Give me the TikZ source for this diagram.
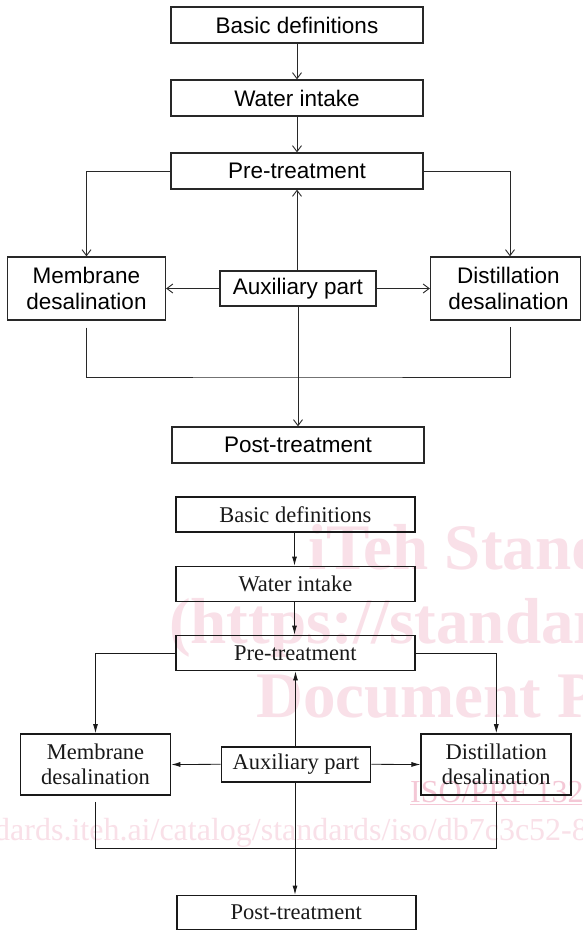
\documentclass[tikz,border=0pt]{standalone}
\usepackage{fontspec}
\setmainfont{Liberation Serif}
\newfontfamily\arialf{Liberation Sans}
\usetikzlibrary{arrows.meta}
\definecolor{wm}{RGB}{249,224,232}
\definecolor{wmiso}{RGB}{244,200,214}
\definecolor{lineA}{RGB}{40,40,40}
\definecolor{lineB}{RGB}{25,25,25}
\tikzset{
  boxA/.style={draw=lineA, line width=1.2pt, rectangle, inner sep=0pt, align=center,
    font=\arialf\fontsize{22.5}{26.5}\selectfont, text=black},
  boxB/.style={draw=lineB, line width=1.8pt, rectangle, inner sep=0pt, align=center,
    font=\fontsize{22.5}{25}\selectfont, text=lineB},
  connA/.style={draw=lineA, line width=0.9pt},
  arrA/.style={connA, -{Straight Barb[length=6pt,width=9pt]}},
  connB/.style={draw=lineB, line width=0.8pt},
  arrB/.style={connB, -{Latex[length=9pt,width=5pt]}},
  wmbig/.style={text=wm, anchor=base west, inner sep=0pt, font=\bfseries\fontsize{65}{65}\selectfont},
  wmsmall/.style={text=wm, anchor=base west, inner sep=0pt, font=\fontsize{32}{32}\selectfont},
  wmiso/.style={text=wmiso, anchor=base west, inner sep=0pt, font=\fontsize{32}{32}\selectfont}
}
\begin{document}
\begin{tikzpicture}[x=1pt,y=-1pt]
\useasboundingbox (0,0) rectangle (582,931);
\fill[white] (0,0) rectangle (582,931);
% watermark (lower copy)
\begin{scope}
\clip (0,0) rectangle (582,931);
\node[wmbig] (wm1) at (308,569) {iTeh Standards};
\node[wmbig] (wm2) at (169,643) {(https://standards};
\node[wmbig] (wm3) at (256,717) {Document P};
\node[wmiso] (wm4) at (410,802) {\underline{ISO/PRF 132}};
\node[wmsmall] (wm5) at (-6,840) {dards.iteh.ai/catalog/standards/iso/db7c3c52-8};
\end{scope}
% ===== upper diagram =====
\node[boxA, minimum width=252pt, minimum height=36pt] (basicA) at (297,25) {Basic definitions};
\node[boxA, minimum width=252pt, minimum height=36pt] (waterA) at (297,98) {Water intake};
\node[boxA, minimum width=252pt, minimum height=36pt] (preA) at (297,171) {Pre-treatment};
\node[boxA, minimum width=158pt, minimum height=63pt] (memA) at (86.5,288.5) {Membrane\\desalination};
\node[boxA, minimum width=156pt, minimum height=35pt] (auxA) at (298,288.5) {Auxiliary part};
\node[boxA, minimum width=150pt, minimum height=63pt] (distA) at (505.5,288.5) {\hspace*{6pt}Distillation\\\hspace*{6pt}desalination};
\node[boxA, minimum width=252pt, minimum height=36pt] (postA) at (298,445) {Post-treatment};
\coordinate (joinA) at (297,377);
\draw[arrA] (basicA) -- (waterA);
\draw[arrA] (waterA) -- (preA);
\draw[arrA] (preA.west) -| (memA.north);
\draw[arrA] (preA.east) -| ([xshift=4.5pt]distA.north);
\draw[arrA] (auxA.north -| preA.south) -- (preA.south);
\draw[arrA] (auxA.west) -- (memA.east);
\draw[arrA] (auxA.east) -- (distA.west);
\draw[connA] ([yshift=-7pt]memA.south) |- (joinA) -| ([xshift=4.5pt,yshift=-6pt]distA.south);
\draw[arrA] (auxA.south -| postA.north) -- (postA.north);
% ===== lower diagram =====
\node[boxB, minimum width=239pt, minimum height=35pt] (basicB) at (295.4,514.2) {Basic definitions};
\node[boxB, minimum width=239pt, minimum height=35pt] (waterB) at (295.4,584) {Water intake};
\node[boxB, minimum width=239pt, minimum height=35pt] (preB) at (295.4,653) {Pre-treatment};
\node[boxB, minimum width=150pt, minimum height=61pt] (memB) at (95.5,764.5) {Membrane\\desalination};
\node[boxB, minimum width=149pt, minimum height=35pt] (auxB) at (296,764.3) {Auxiliary part};
\node[boxB, minimum width=150pt, minimum height=61pt] (distB) at (496.3,764.5) {Distillation\\desalination};
\node[boxB, minimum width=239pt, minimum height=34pt] (postB) at (296.2,912.5) {Post-treatment};
\coordinate (joinB) at (295,848);
\draw[arrB] (basicB.south -| 294.5,0) -- (waterB.north -| 294.5,0);
\draw[arrB] (waterB.south -| 294.5,0) -- (preB.north -| 294.5,0);
\draw[arrB] (preB.west) -| (memB.north);
\draw[arrB] (preB.east) -| (distB.north);
\draw[arrB] (auxB.north -| 295.5,0) -- (preB.south -| 295.5,0);
\draw[arrB] (auxB.west) -- (memB.east);
\draw[arrB] (auxB.east) -- (distB.west);
\draw[connB] ([yshift=-6pt]memB.south) |- (joinB) -| ([yshift=-6pt]distB.south);
\draw[arrB] (auxB.south -| 295,0) -- (postB.north -| 295,0);
\end{tikzpicture}
\end{document}
